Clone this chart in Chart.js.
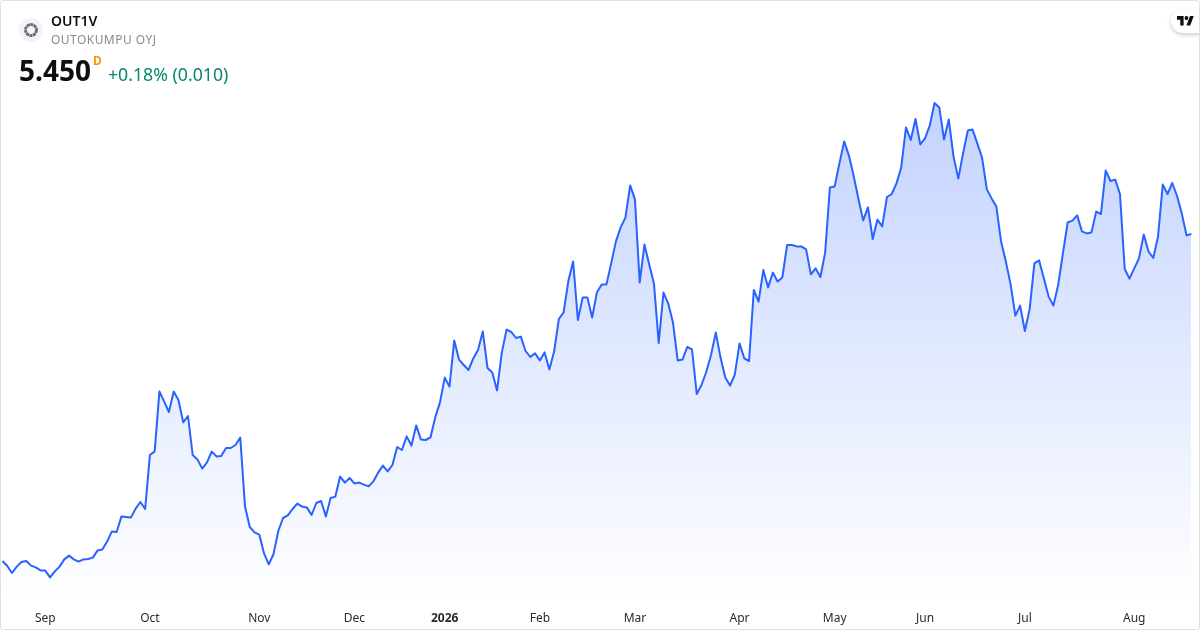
<!DOCTYPE html>
<html>
<head>
<meta charset="utf-8">
<script src="https://cdn.jsdelivr.net/npm/chart.js@4/dist/chart.umd.min.js"></script>
<style>
html,body{margin:0;padding:0;background:#fff;width:1200px;height:630px;overflow:hidden;font-family:"Noto Sans",sans-serif}
#wrap{position:relative;width:1200px;height:630px}
canvas{position:absolute;left:0;top:0}
#frame{position:absolute;left:0;top:0;width:1198px;height:628px;border:1px solid #e0e0e0;border-radius:3px;pointer-events:none}
.t{position:absolute;white-space:nowrap;line-height:1}
#logo{position:absolute;left:19px;top:18px}
#tv{position:absolute;left:1171px;top:9px;width:40px;height:24px;border-radius:12px;background:#fff;box-shadow:0 2px 4px rgba(0,0,0,.2)}
#clip{position:absolute;left:0;top:0;width:1199px;height:630px;overflow:hidden}
#tvsvg{position:absolute;left:1177px;top:16px}
</style>
</head>
<body>
<div id="wrap">
<canvas id="c" width="1200" height="630"></canvas>
<svg id="logo" width="24" height="24" viewBox="0 0 24 24"><circle cx="12" cy="12" r="12" fill="#f0f3fa"/><circle cx="12" cy="12" r="5.5" fill="none" stroke="#6a6a70" stroke-width="2.8" stroke-dasharray="3 0.5"/></svg>
<div class="t" style="left:51px;top:14px;font-size:14px;font-weight:600;color:#0f0f0f">OUT1V</div>
<div class="t" style="left:51px;top:34px;font-size:12px;letter-spacing:.45px;color:#8a8a8a">OUTOKUMPU OYJ</div>
<div class="t" style="left:19px;top:56px;font-size:28px;font-weight:700;color:#0f0f0f">5.450</div>
<div class="t" style="left:93px;top:55px;font-size:12px;font-weight:700;color:#ff9800">D</div>
<div class="t" style="left:108px;top:66px;font-size:17.7px;color:#0a8570">+0.18% (0.010)</div>
<div id="clip"><div id="tv"></div></div>
<svg id="tvsvg" width="17" height="9.5" viewBox="0 0 36 18" preserveAspectRatio="none"><path d="M14 18H7V7H0V0h14v18zM28 18h-8L27.5 0h8L28 18z" fill="#0f0f0f"/><circle cx="20" cy="4" r="4" fill="#0f0f0f"/></svg>
<div id="frame"></div>
</div>
<script>
const tickIndex = [9,31,54,74,93,113,133,155,175,194,215,238];
const tickLabels = ["Sep","Oct","Nov","Dec","2026","Feb","Mar","Apr","May","Jun","Jul","Aug"];
const prices = [
3.815,3.79,3.755,3.787,3.81,3.815,3.792,3.783,3.768,3.767,
3.733,3.763,3.787,3.823,3.842,3.823,3.812,3.823,3.825,3.832,
3.868,3.872,3.912,3.963,3.96,4.037,4.035,4.032,4.077,4.11,
4.075,4.345,4.363,4.663,4.612,4.56,4.662,4.62,4.508,4.54,
4.345,4.323,4.277,4.308,4.362,4.338,4.34,4.38,4.38,4.395,
4.432,4.087,3.985,3.958,3.947,3.853,3.798,3.85,3.965,4.03,
4.043,4.075,4.102,4.087,4.083,4.045,4.105,4.115,4.038,4.13,
4.137,4.237,4.207,4.23,4.203,4.207,4.197,4.188,4.213,4.257,
4.292,4.263,4.295,4.385,4.37,4.438,4.392,4.493,4.422,4.42,
4.433,4.533,4.608,4.732,4.687,4.917,4.822,4.795,4.77,4.828,
4.87,4.963,4.78,4.758,4.668,4.857,4.972,4.96,4.93,4.937,
4.865,4.835,4.853,4.818,4.858,4.773,4.862,5.025,5.058,5.215,
5.313,5.02,5.132,5.132,5.032,5.158,5.197,5.197,5.303,5.413,
5.483,5.532,5.693,5.623,5.208,5.397,5.298,5.203,4.905,5.157,
5.103,5.007,4.817,4.822,4.885,4.873,4.65,4.695,4.76,4.845,
4.957,4.832,4.732,4.692,4.747,4.903,4.828,4.815,5.17,5.112,
5.27,5.183,5.257,5.213,5.233,5.395,5.395,5.388,5.388,5.373,
5.248,5.278,5.235,5.357,5.683,5.688,5.803,5.913,5.842,5.74,
5.625,5.518,5.583,5.425,5.522,5.488,5.635,5.65,5.703,5.783,
5.983,5.92,6.025,5.898,5.928,5.992,6.105,6.083,5.923,6.023,
5.837,5.727,5.853,5.967,5.972,5.903,5.832,5.673,5.628,5.587,
5.412,5.312,5.198,5.042,5.092,4.965,5.073,5.303,5.318,5.228,
5.137,5.092,5.195,5.353,5.508,5.517,5.543,5.463,5.453,5.458,
5.562,5.55,5.767,5.715,5.722,5.65,5.275,5.227,5.278,5.328,
5.448,5.362,5.33,5.437,5.697,5.65,5.705,5.64,5.553,5.443,
5.45
];
const categories = prices.map((_, i) => i);
const yMin = 3.605, yMax = 6.62;

function areaFill(ctx){
  const chart = ctx.chart, a = chart.chartArea;
  if(!a) return 'rgba(41,98,255,0.1)';
  const top = chart.scales.y.getPixelForValue(Math.max(...prices));
  const g = chart.ctx.createLinearGradient(0, top, 0, a.bottom);
  g.addColorStop(0, 'rgba(41,98,255,0.28)');
  g.addColorStop(1, 'rgba(41,98,255,0)');
  return g;
}

new Chart(document.getElementById('c'), {
  type: 'line',
  data: { labels: categories, datasets: [{
    data: prices,
    borderColor: '#2962ff',
    borderWidth: 2,
    backgroundColor: areaFill,
    fill: 'start',
    pointRadius: 0,
    tension: 0,
    borderJoinStyle: 'round',
    clip: false
  }]},
  options: {
    responsive: false,
    animation: false,
    events: [],
    layout: { autoPadding: false, padding: { left: 2.5, right: 8.7, top: 0, bottom: 0 } },
    plugins: { legend: { display: false }, tooltip: { enabled: false } },
    scales: {
      y: { display: false, min: yMin, max: yMax },
      x: {
        type: 'category',
        offset: false,
        grid: { display: false, drawTicks: false },
        border: { display: false },
        afterFit(s){ s.height = 27; s.paddingLeft = 0; s.paddingRight = 0; },
        ticks: {
          autoSkip: false, maxRotation: 0, minRotation: 0, padding: 8,
          color: '#2a2a2a',
          font: c => ({ family: '"Noto Sans"', size: 12, weight: c.tick && c.tick.label === '2026' ? '700' : '400' }),
          callback(v, i){ const k = tickIndex.indexOf(i); return k >= 0 ? tickLabels[k] : ''; }
        }
      }
    }
  }
});
</script>
</body>
</html>
